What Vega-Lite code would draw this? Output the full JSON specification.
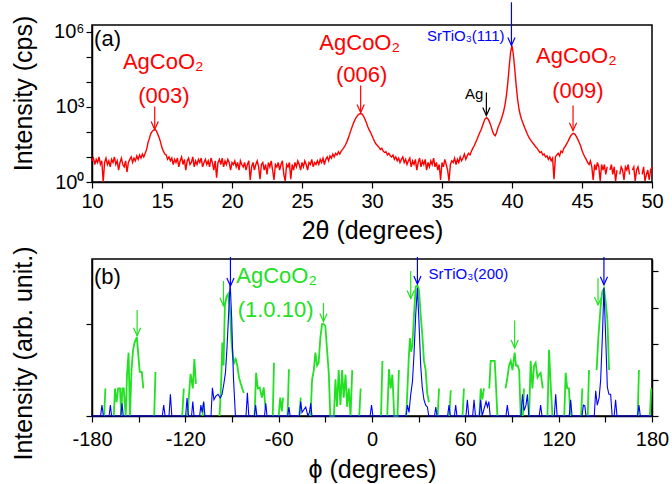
{
"$schema":"https://vega.github.io/schema/vega-lite/v6.json",
"background":"white",
"padding":{"left":10,"top":0,"right":6,"bottom":4},
"spacing":1,
"config":{"font":"Liberation Sans","view":{"stroke":"black","strokeWidth":1.5},
"axis":{"domainColor":"black","tickColor":"black","labelColor":"black","titleColor":"black","domainWidth":1.5,"tickWidth":1.2,"tickSize":6,"labelFontSize":20,"titleFontSize":25,"titleFontWeight":"normal","grid":false,"labelFlush":false,"labelOverlap":false,"labelFont":"Liberation Sans","titleFont":"Liberation Sans"}},
"vconcat":[
{"width":560,"height":157,
"layer":[
{"data":{"values":[
{"t":10.0,"i":7},{"t":10.1,"i":9},{"t":10.2,"i":5},{"t":10.3,"i":8},{"t":10.4,"i":6},{"t":10.5,"i":10},{"t":10.6,"i":5},{"t":10.7,"i":7},{"t":10.8,"i":1},{"t":10.9,"i":6},
{"t":11.0,"i":9},{"t":11.1,"i":5},{"t":11.2,"i":7},{"t":11.3,"i":4},{"t":11.4,"i":8},{"t":11.5,"i":6},{"t":11.6,"i":10},{"t":11.7,"i":5},{"t":11.8,"i":7},{"t":11.9,"i":3},
{"t":12.0,"i":6},{"t":12.1,"i":9},{"t":12.2,"i":5},{"t":12.3,"i":4},{"t":12.4,"i":7},{"t":12.5,"i":2.5},{"t":12.6,"i":6},{"t":12.7,"i":8},{"t":12.8,"i":10},{"t":12.9,"i":6},
{"t":13.0,"i":9},{"t":13.1,"i":7},{"t":13.2,"i":11},{"t":13.3,"i":8},{"t":13.4,"i":12},{"t":13.5,"i":9},{"t":13.6,"i":13},{"t":13.7,"i":10},{"t":13.8,"i":14},{"t":13.9,"i":20},
{"t":14.0,"i":37},{"t":14.1,"i":55},{"t":14.2,"i":85},{"t":14.3,"i":105},{"t":14.4,"i":118},{"t":14.5,"i":123},{"t":14.6,"i":110},{"t":14.7,"i":80},{"t":14.8,"i":59},{"t":14.9,"i":38},
{"t":15.0,"i":23},{"t":15.1,"i":17},{"t":15.2,"i":13},{"t":15.3,"i":12},{"t":15.4,"i":8},{"t":15.5,"i":10},{"t":15.6,"i":7},{"t":15.7,"i":9},{"t":15.8,"i":5},{"t":15.9,"i":8},
{"t":16.0,"i":6},{"t":16.1,"i":9},{"t":16.2,"i":4},{"t":16.3,"i":7},{"t":16.4,"i":10},{"t":16.5,"i":5},{"t":16.6,"i":8},{"t":16.7,"i":3},{"t":16.8,"i":7},{"t":16.9,"i":9},
{"t":17.0,"i":5},{"t":17.1,"i":6},{"t":17.2,"i":10},{"t":17.3,"i":4},{"t":17.4,"i":7},{"t":17.5,"i":5},{"t":17.6,"i":8},{"t":17.7,"i":6},{"t":17.8,"i":9},{"t":17.9,"i":4},
{"t":18.0,"i":6},{"t":18.1,"i":8},{"t":18.2,"i":5},{"t":18.3,"i":7},{"t":18.4,"i":4},{"t":18.5,"i":9},{"t":18.6,"i":6},{"t":18.7,"i":3},{"t":18.8,"i":7},{"t":18.9,"i":1.5},
{"t":19.0,"i":6},{"t":19.1,"i":8},{"t":19.2,"i":5},{"t":19.3,"i":9},{"t":19.4,"i":4},{"t":19.5,"i":7},{"t":19.6,"i":5},{"t":19.7,"i":8},{"t":19.8,"i":6},{"t":19.9,"i":3},
{"t":20.0,"i":6},{"t":20.1,"i":5},{"t":20.2,"i":7},{"t":20.3,"i":4},{"t":20.4,"i":6},{"t":20.5,"i":3},{"t":20.6,"i":7},{"t":20.7,"i":5},{"t":20.8,"i":4},{"t":20.9,"i":6},
{"t":21.0,"i":3},{"t":21.1,"i":5},{"t":21.2,"i":7},{"t":21.3,"i":1.2},{"t":21.4,"i":4},{"t":21.5,"i":6},{"t":21.6,"i":3},{"t":21.7,"i":5},{"t":21.8,"i":7},{"t":21.9,"i":4},
{"t":22.0,"i":1.3},{"t":22.1,"i":5},{"t":22.2,"i":6},{"t":22.3,"i":3},{"t":22.4,"i":5},{"t":22.5,"i":2},{"t":22.6,"i":6},{"t":22.7,"i":4},{"t":22.8,"i":7},{"t":22.9,"i":3},
{"t":23.0,"i":1.2},{"t":23.1,"i":5},{"t":23.2,"i":4},{"t":23.3,"i":6},{"t":23.4,"i":3},{"t":23.5,"i":5},{"t":23.6,"i":7},{"t":23.7,"i":2},{"t":23.8,"i":1.1},{"t":23.9,"i":5},
{"t":24.0,"i":4},{"t":24.1,"i":6},{"t":24.2,"i":1.3},{"t":24.3,"i":5},{"t":24.4,"i":3},{"t":24.5,"i":6},{"t":24.6,"i":4},{"t":24.7,"i":7},{"t":24.8,"i":5},{"t":24.9,"i":3},
{"t":25.0,"i":6},{"t":25.1,"i":4},{"t":25.2,"i":7},{"t":25.3,"i":5},{"t":25.4,"i":3},{"t":25.5,"i":6},{"t":25.6,"i":5},{"t":25.7,"i":8},{"t":25.8,"i":4},{"t":25.9,"i":6},
{"t":26.0,"i":5},{"t":26.1,"i":7},{"t":26.2,"i":5},{"t":26.3,"i":8},{"t":26.4,"i":6},{"t":26.5,"i":9},{"t":26.6,"i":5},{"t":26.7,"i":8},{"t":26.8,"i":10},{"t":26.9,"i":7},
{"t":27.0,"i":11},{"t":27.1,"i":9},{"t":27.2,"i":13},{"t":27.3,"i":10},{"t":27.4,"i":14},{"t":27.5,"i":12},{"t":27.6,"i":16},{"t":27.7,"i":13},{"t":27.8,"i":17},{"t":27.9,"i":20},
{"t":28.0,"i":24},{"t":28.1,"i":30},{"t":28.2,"i":40},{"t":28.3,"i":55},{"t":28.4,"i":80},{"t":28.5,"i":120},{"t":28.6,"i":170},{"t":28.7,"i":240},{"t":28.8,"i":320},{"t":28.9,"i":400},
{"t":29.0,"i":470},{"t":29.1,"i":520},{"t":29.2,"i":540},{"t":29.3,"i":510},{"t":29.4,"i":420},{"t":29.5,"i":320},{"t":29.6,"i":230},{"t":29.7,"i":160},{"t":29.8,"i":120},{"t":29.9,"i":94},
{"t":30.0,"i":70},{"t":30.1,"i":52},{"t":30.2,"i":40},{"t":30.3,"i":32},{"t":30.4,"i":28},{"t":30.5,"i":24},{"t":30.6,"i":20},{"t":30.7,"i":22},{"t":30.8,"i":17},{"t":30.9,"i":15},
{"t":31.0,"i":16},{"t":31.1,"i":12},{"t":31.2,"i":14},{"t":31.3,"i":11},{"t":31.4,"i":10},{"t":31.5,"i":12},{"t":31.6,"i":8},{"t":31.7,"i":10},{"t":31.8,"i":7},{"t":31.9,"i":9},
{"t":32.0,"i":6},{"t":32.1,"i":8},{"t":32.2,"i":10},{"t":32.3,"i":6},{"t":32.4,"i":8},{"t":32.5,"i":5},{"t":32.6,"i":7},{"t":32.7,"i":9},{"t":32.8,"i":4},{"t":32.9,"i":7},
{"t":33.0,"i":5},{"t":33.1,"i":8},{"t":33.2,"i":3},{"t":33.3,"i":6},{"t":33.4,"i":9},{"t":33.5,"i":4},{"t":33.6,"i":7},{"t":33.7,"i":5},{"t":33.8,"i":8},{"t":33.9,"i":3},
{"t":34.0,"i":6},{"t":34.1,"i":4},{"t":34.2,"i":7},{"t":34.3,"i":5},{"t":34.4,"i":9},{"t":34.5,"i":4},{"t":34.6,"i":6},{"t":34.7,"i":3},{"t":34.8,"i":5},{"t":34.9,"i":1.2},
{"t":35.0,"i":6},{"t":35.1,"i":4},{"t":35.2,"i":8},{"t":35.3,"i":5},{"t":35.4,"i":3},{"t":35.5,"i":1.1},{"t":35.6,"i":5},{"t":35.7,"i":7},{"t":35.8,"i":6},{"t":35.9,"i":9},
{"t":36.0,"i":5},{"t":36.1,"i":8},{"t":36.2,"i":6},{"t":36.3,"i":10},{"t":36.4,"i":7},{"t":36.5,"i":9},{"t":36.6,"i":13},{"t":36.7,"i":8},{"t":36.8,"i":11},{"t":36.9,"i":14},
{"t":37.0,"i":12},{"t":37.1,"i":17},{"t":37.2,"i":22},{"t":37.3,"i":28},{"t":37.4,"i":38},{"t":37.5,"i":50},{"t":37.6,"i":70},{"t":37.7,"i":95},{"t":37.8,"i":125},{"t":37.9,"i":180},
{"t":38.0,"i":260},{"t":38.1,"i":340},{"t":38.2,"i":370},{"t":38.3,"i":320},{"t":38.4,"i":240},{"t":38.5,"i":170},{"t":38.6,"i":110},{"t":38.7,"i":80},{"t":38.8,"i":70},{"t":38.9,"i":95},
{"t":39.0,"i":150},{"t":39.1,"i":200},{"t":39.2,"i":280},{"t":39.3,"i":420},{"t":39.4,"i":650},{"t":39.5,"i":1200},{"t":39.6,"i":2800},{"t":39.7,"i":9000},{"t":39.8,"i":40000},{"t":39.9,"i":150000},
{"t":40.0,"i":280000},{"t":40.1,"i":120000},{"t":40.2,"i":30000},{"t":40.3,"i":7000},{"t":40.4,"i":2000},{"t":40.5,"i":800},{"t":40.6,"i":450},{"t":40.7,"i":300},{"t":40.8,"i":210},{"t":40.9,"i":150},
{"t":41.0,"i":110},{"t":41.1,"i":80},{"t":41.2,"i":62},{"t":41.3,"i":50},{"t":41.4,"i":42},{"t":41.5,"i":35},{"t":41.6,"i":30},{"t":41.7,"i":25},{"t":41.8,"i":22},{"t":41.9,"i":18},
{"t":42.0,"i":15},{"t":42.1,"i":16},{"t":42.2,"i":12},{"t":42.3,"i":13},{"t":42.4,"i":10},{"t":42.5,"i":11},{"t":42.6,"i":8},{"t":42.7,"i":10},{"t":42.8,"i":7},{"t":42.9,"i":9},
{"t":43.0,"i":1.3},{"t":43.1,"i":10},{"t":43.2,"i":12},{"t":43.3,"i":14},{"t":43.4,"i":11},{"t":43.5,"i":17},{"t":43.6,"i":15},{"t":43.7,"i":22},{"t":43.8,"i":26},{"t":43.9,"i":33},
{"t":44.0,"i":42},{"t":44.1,"i":55},{"t":44.2,"i":70},{"t":44.3,"i":82},{"t":44.4,"i":88},{"t":44.5,"i":80},{"t":44.6,"i":65},{"t":44.7,"i":50},{"t":44.8,"i":38},{"t":44.9,"i":28},
{"t":45.0,"i":18},{"t":45.1,"i":13},{"t":45.2,"i":10},{"t":45.3,"i":8},{"t":45.4,"i":6},{"t":45.5,"i":5},{"t":45.6,"i":7},{"t":45.7,"i":4},{"t":45.8,"i":1.2},{"t":45.9,"i":5},
{"t":46.0,"i":3},{"t":46.1,"i":6},{"t":46.2,"i":4},{"t":46.3,"i":1.1},{"t":46.4,"i":5},{"t":46.5,"i":3},{"t":46.6,"i":5},{"t":46.7,"i":2},{"t":46.8,"i":4},{"t":46.9,"i":null},
{"t":47.0,"i":3},{"t":47.1,"i":5},{"t":47.2,"i":2},{"t":47.3,"i":4},{"t":47.4,"i":1.1},{"t":47.5,"i":3},{"t":47.6,"i":null},{"t":47.7,"i":2},{"t":47.8,"i":4},{"t":47.9,"i":3},
{"t":48.0,"i":1.2},{"t":48.1,"i":4},{"t":48.2,"i":3},{"t":48.3,"i":5},{"t":48.4,"i":2},{"t":48.5,"i":null},{"t":48.6,"i":3},{"t":48.7,"i":4},{"t":48.8,"i":1.1},{"t":48.9,"i":3},
{"t":49.0,"i":4},{"t":49.1,"i":2},{"t":49.2,"i":null},{"t":49.3,"i":2},{"t":49.4,"i":4},{"t":49.5,"i":1.1},{"t":49.6,"i":2},{"t":49.7,"i":3},{"t":49.8,"i":1.2},{"t":49.9,"i":3},
{"t":50.0,"i":4}
]},
"mark":{"type":"line","color":"#ff0000","strokeWidth":1.4},
"encoding":{
"x":{"field":"t","type":"quantitative","scale":{"domain":[10,50],"nice":false,"zero":false},
"axis":{"title":"2θ (degrees)","values":[10,12.5,15,17.5,20,22.5,25,27.5,30,32.5,35,37.5,40,42.5,45,47.5,50],"labelExpr":"datum.value % 5 === 0 ? '' + datum.value : ''","labelPadding":3,"titlePadding":7,"labelOverlap":false}},
"y":{"field":"i","type":"quantitative","scale":{"type":"log","domain":[1,1840000],"nice":false},
"axis":{"title":"Intensity (cps)","values":[1,10,100,1000,10000,100000,1000000],"labelExpr":"datum.value === 1 ? '10⁰' : datum.value === 1000 ? '10³' : datum.value === 1000000 ? '10⁶' : ''","labelPadding":2,"minExtent":44,"maxExtent":44,"titlePadding":12,"titleY":68,"labelOverlap":false}}}},
{"data":{"values":[
{"t":15.09,"i":61660,"label":"AgCoO₂"},{"t":15.14,"i":2692,"label":"(003)"},
{"t":29.12,"i":338800,"label":"AgCoO₂"},{"t":29.26,"i":17780,"label":"(006)"},
{"t":44.6,"i":109600,"label":"AgCoO₂"},{"t":44.7,"i":4365,"label":"(009)"}]},
"mark":{"type":"text","fontSize":22,"color":"#ff0000","align":"center","baseline":"middle","font":"Liberation Sans"},
"encoding":{"x":{"field":"t","type":"quantitative","scale":{"domain":[10,50]}},"y":{"field":"i","type":"quantitative","scale":{"type":"log","domain":[1,1840000]}},"text":{"field":"label"}}},
{"data":{"values":[{"t":37.3,"i":3236,"label":"Ag"}]},
"mark":{"type":"text","fontSize":15,"color":"black","align":"center","baseline":"middle","font":"Liberation Sans"},
"encoding":{"x":{"field":"t","type":"quantitative"},"y":{"field":"i","type":"quantitative"},"text":{"field":"label"}}},
{"data":{"values":[{"t":36.7,"i":676000,"label":"SrTiO₃(111)"}]},
"mark":{"type":"text","fontSize":15,"color":"#0000ff","align":"center","baseline":"middle","font":"Liberation Sans"},
"encoding":{"x":{"field":"t","type":"quantitative"},"y":{"field":"i","type":"quantitative"},"text":{"field":"label"}}},
{"data":{"values":[{"t":10.15,"i":512800,"label":"(a)"}]},
"mark":{"type":"text","fontSize":22,"color":"black","align":"left","baseline":"middle","font":"Liberation Sans"},
"encoding":{"x":{"field":"t","type":"quantitative"},"y":{"field":"i","type":"quantitative"},"text":{"field":"label"}}},
{"data":{"values":[{"t":14.48,"i":1025,"i2":124},{"t":29.19,"i":7080,"i2":590},{"t":44.36,"i":1122,"i2":112}]},
"mark":{"type":"rule","color":"#ff0000","strokeWidth":1.2},
"encoding":{"x":{"field":"t","type":"quantitative"},"y":{"field":"i","type":"quantitative"},"y2":{"field":"i2"}}},
{"data":{"values":[{"t":14.48,"i":124},{"t":29.19,"i":590},{"t":44.36,"i":112}]},
"mark":{"type":"point","shape":"M-0.45,-1L0,0L0.45,-1","filled":false,"size":256,"color":"#ff0000","strokeWidth":1.2,"opacity":1},
"encoding":{"x":{"field":"t","type":"quantitative"},"y":{"field":"i","type":"quantitative"}}},
{"data":{"values":[{"t":38.17,"i":3715,"i2":447}]},
"mark":{"type":"rule","color":"black","strokeWidth":1.2},
"encoding":{"x":{"field":"t","type":"quantitative"},"y":{"field":"i","type":"quantitative"},"y2":{"field":"i2"}}},
{"data":{"values":[{"t":38.17,"i":447}]},
"mark":{"type":"point","shape":"M-0.45,-1L0,0L0.45,-1","filled":false,"size":256,"color":"black","strokeWidth":1.2,"opacity":1},
"encoding":{"x":{"field":"t","type":"quantitative"},"y":{"field":"i","type":"quantitative"}}},
{"data":{"values":[{"t":39.96,"i":14800000,"i2":282000}]},
"mark":{"type":"rule","color":"#0000ff","strokeWidth":1.2},
"encoding":{"x":{"field":"t","type":"quantitative"},"y":{"field":"i","type":"quantitative"},"y2":{"field":"i2"}}},
{"data":{"values":[{"t":39.96,"i":282000}]},
"mark":{"type":"point","shape":"M-0.45,-1L0,0L0.45,-1","filled":false,"size":256,"color":"#0000ff","strokeWidth":1.2,"opacity":1},
"encoding":{"x":{"field":"t","type":"quantitative"},"y":{"field":"i","type":"quantitative"}}}
]},
{"width":560,"height":157,
"layer":[
{"layer":[
{"data":{"values":[
{"p":-178,"g":0},{"p":-177,"g":null},
{"p":-172.2,"g":0},{"p":-171.4,"g":0.3},{"p":-170.8,"g":null},
{"p":-166,"g":0},{"p":-165.2,"g":0.3},{"p":-164.2,"g":0.15},{"p":-163.2,"g":0.3},{"p":-162,"g":0.3},{"p":-161.2,"g":0},{"p":-160.5,"g":0.3},{"p":-159.6,"g":0.3},{"p":-158.9,"g":0.12},{"p":-158.3,"g":0},{"p":-157.5,"g":0.45},{"p":-156.5,"g":0.69},{"p":-155.6,"g":0},{"p":-154.6,"g":0.5},{"p":-153.6,"g":0.72},{"p":-152.6,"g":0.8},{"p":-151.2,"g":0.86},{"p":-150.2,"g":0.66},{"p":-149.3,"g":0.48},{"p":-148,"g":0.48},{"p":-147,"g":0.3},{"p":-146.5,"g":null},
{"p":-140,"g":0},{"p":-139.2,"g":0.48},{"p":-138.6,"g":null},
{"p":-122,"g":0},{"p":-121,"g":0.3},{"p":-120.3,"g":null},
{"p":-118.6,"g":0},{"p":-117.8,"g":0.2},{"p":-116.6,"g":0.46},{"p":-115.2,"g":0.3},{"p":-114.2,"g":0.62},{"p":-113.2,"g":0.35},{"p":-112.6,"g":null},
{"p":-109,"g":0},{"p":-108.2,"g":0.14},{"p":-107.6,"g":null},
{"p":-98,"g":0},{"p":-97,"g":0.35},{"p":-96.2,"g":0.8},{"p":-95.4,"g":0.55},{"p":-94.6,"g":1.2},{"p":-93.5,"g":1.3},{"p":-92.4,"g":1.33},{"p":-91.3,"g":1.15},{"p":-90.3,"g":0.8},{"p":-89.4,"g":0.65},{"p":-88.6,"g":0.58},{"p":-87.6,"g":0.62},{"p":-86.6,"g":0.55},{"p":-85.5,"g":0.42},{"p":-84.5,"g":0.36},{"p":-83.4,"g":0.3},{"p":-82.4,"g":0.25},{"p":-81.8,"g":null},
{"p":-75.5,"g":0},{"p":-74.5,"g":0.47},{"p":-73.4,"g":0.3},{"p":-72.2,"g":0.31},{"p":-70.8,"g":0.2},{"p":-69.6,"g":0.31},{"p":-68.5,"g":0.09},{"p":-67.8,"g":null},
{"p":-63.8,"g":0},{"p":-63,"g":0.58},{"p":-62.3,"g":null},
{"p":-60,"g":0},{"p":-59,"g":0.2},{"p":-58,"g":0.05},{"p":-57.2,"g":0.2},{"p":-56.5,"g":null},
{"p":-54.3,"g":0},{"p":-53.4,"g":0.51},{"p":-52.7,"g":null},
{"p":-46.8,"g":0},{"p":-45.8,"g":0.2},{"p":-45.2,"g":null},
{"p":-39.5,"g":0},{"p":-38.5,"g":0.4},{"p":-37.4,"g":0.5},{"p":-36.4,"g":0.69},{"p":-35.3,"g":0.55},{"p":-34.3,"g":0.58},{"p":-33.2,"g":0.85},{"p":-32.1,"g":1.0},{"p":-31,"g":1.0},{"p":-30,"g":0.98},{"p":-28.8,"g":0.7},{"p":-27.8,"g":0.47},{"p":-26.8,"g":0},
{"p":-24.5,"g":0},{"p":-23.5,"g":0.4},{"p":-22.5,"g":0.1},{"p":-21.4,"g":0.5},{"p":-20.3,"g":0.12},{"p":-19.2,"g":0.5},{"p":-18.2,"g":0.2},{"p":-17,"g":0.45},{"p":-16,"g":0.1},{"p":-14.9,"g":0.3},{"p":-13.8,"g":0},{"p":-12.7,"g":0.5},{"p":-12,"g":null},
{"p":-8.2,"g":0},{"p":-7.3,"g":0.3},{"p":-6.7,"g":null},
{"p":5.8,"g":0},{"p":6.7,"g":0.6},{"p":7.3,"g":null},
{"p":9.8,"g":0},{"p":10.9,"g":0.51},{"p":12,"g":0.3},{"p":13.1,"g":0.45},{"p":14.3,"g":0},
{"p":16.4,"g":0},{"p":17.3,"g":0.5},{"p":18,"g":null},
{"p":22,"g":0},{"p":22.8,"g":0.3},{"p":23.6,"g":0.62},{"p":24.4,"g":0.85},{"p":25.2,"g":0.7},{"p":26,"g":0.78},{"p":27,"g":1.1},{"p":28.1,"g":1.41},{"p":29.2,"g":1.42},{"p":30.2,"g":1.37},{"p":31.3,"g":1.1},{"p":32.4,"g":0.87},{"p":33.4,"g":0.6},{"p":34.5,"g":0.5},{"p":35.5,"g":0.25},{"p":36.6,"g":0.15},{"p":37.2,"g":null},
{"p":42.2,"g":0},{"p":43.1,"g":0.3},{"p":43.8,"g":null},
{"p":49.7,"g":0},{"p":50.6,"g":0.28},{"p":51.3,"g":null},
{"p":58.2,"g":0},{"p":59.1,"g":0.3},{"p":59.8,"g":null},
{"p":69,"g":0},{"p":69.9,"g":0.3},{"p":70.9,"g":0.18},{"p":72,"g":0.3},{"p":72.6,"g":null},
{"p":75.4,"g":0.3},{"p":76.3,"g":0.6},{"p":78.9,"g":0.6},{"p":79.8,"g":0.3},{"p":80.6,"g":0},{"p":81.2,"g":null},
{"p":85.8,"g":0.3},{"p":86.9,"g":0.4},{"p":88.1,"g":0.55},{"p":89.2,"g":0.6},{"p":90.3,"g":0.5},{"p":91.7,"g":0.69},{"p":92.6,"g":0.55},{"p":93.6,"g":0.55},{"p":94.6,"g":0.5},{"p":95.6,"g":0},{"p":96.2,"g":null},
{"p":97,"g":0},{"p":97.7,"g":0.3},{"p":98.3,"g":null},
{"p":101,"g":0},{"p":102,"g":0.6},{"p":103.1,"g":0.3},{"p":104.2,"g":0.55},{"p":105.2,"g":0.58},{"p":106.4,"g":0.42},{"p":107.4,"g":0.45},{"p":108.4,"g":0.47},{"p":109.8,"g":0.3},{"p":110.6,"g":null},
{"p":112.8,"g":0},{"p":113.8,"g":0.72},{"p":115,"g":0.3},{"p":116,"g":0},{"p":116.6,"g":null},
{"p":123.6,"g":0},{"p":124.5,"g":0.47},{"p":125.5,"g":0.3},{"p":126.6,"g":0.3},{"p":127.5,"g":0},{"p":128.2,"g":null},
{"p":134.4,"g":0},{"p":135.2,"g":0.3},{"p":135.9,"g":null},
{"p":138.7,"g":0},{"p":139.5,"g":0.5},{"p":140.2,"g":null},
{"p":144.4,"g":0.5},{"p":145.5,"g":0.85},{"p":147,"g":1.2},{"p":148,"g":1.35},{"p":149.1,"g":1.39},{"p":150.2,"g":1.25},{"p":151.3,"g":1.05},{"p":152.4,"g":0.5},{"p":153,"g":null},
{"p":170.8,"g":0},{"p":171.6,"g":0.5},{"p":172.3,"g":null},
{"p":178.6,"g":0},{"p":179.5,"g":0.3}
]},
"mark":{"type":"line","color":"#22e022","strokeWidth":1.8},
"encoding":{
"x":{"field":"p","type":"quantitative","scale":{"domain":[-180,180],"nice":false,"zero":false},
"axis":{"title":"ϕ (degrees)","values":[-180,-150,-120,-90,-60,-30,0,30,60,90,120,150,180],"labelExpr":"datum.value % 60 === 0 ? '' + datum.value : ''","labelPadding":7,"titlePadding":8,"labelOverlap":false}},
"y":{"field":"g","type":"quantitative","scale":{"domain":[0,1.71],"nice":false,"zero":false},
"axis":{"title":"Intensity (arb. unit.)","values":[0,1],"labels":false,"minExtent":44,"maxExtent":44,"titlePadding":12,"titleY":94,"labelOverlap":false}}}},
{"data":{"values":[{"p":-61.3,"g":1.53,"label":"AgCoO₂"},{"p":-62,"g":1.15,"label":"(1.0.10)"}]},
"mark":{"type":"text","fontSize":22,"color":"#22e022","align":"center","baseline":"middle","font":"Liberation Sans"},
"encoding":{"x":{"field":"p","type":"quantitative"},"y":{"field":"g","type":"quantitative","scale":{"domain":[0,1.71]}},"text":{"field":"label"}}},
{"data":{"values":[{"p":-178.7,"g":1.51,"label":"(b)"}]},
"mark":{"type":"text","fontSize":22,"color":"black","align":"left","baseline":"middle","font":"Liberation Sans"},
"encoding":{"x":{"field":"p","type":"quantitative"},"y":{"field":"g","type":"quantitative"},"text":{"field":"label"}}},
{"data":{"values":[{"p":-151,"g":1.155,"g2":0.873},{"p":-95.5,"g":1.47,"g2":1.2},{"p":-31.2,"g":1.23,"g2":1.03},{"p":24.9,"g":1.58,"g2":1.28},{"p":91.7,"g":1.04,"g2":0.74},{"p":145.3,"g":1.5,"g2":1.21}]},
"mark":{"type":"rule","color":"#22e022","strokeWidth":1.2},
"encoding":{"x":{"field":"p","type":"quantitative"},"y":{"field":"g","type":"quantitative"},"y2":{"field":"g2"}}},
{"data":{"values":[{"p":-151,"g":0.873},{"p":-95.5,"g":1.2},{"p":-31.2,"g":1.03},{"p":24.9,"g":1.28},{"p":91.7,"g":0.74},{"p":145.3,"g":1.21}]},
"mark":{"type":"point","shape":"M-0.45,-1L0,0L0.45,-1","filled":false,"size":256,"color":"#22e022","strokeWidth":1.2,"opacity":1},
"encoding":{"x":{"field":"p","type":"quantitative"},"y":{"field":"g","type":"quantitative"}}}
]},
{"layer":[
{"data":{"values":[
{"p":-180,"b":0},{"p":-174.5,"b":0},{"p":-173.6,"b":0.3},{"p":-172.7,"b":0},{"p":-169,"b":0},{"p":-168.2,"b":0.3},{"p":-167.4,"b":0},{"p":-161.5,"b":0},{"p":-160.7,"b":0.35},{"p":-159.9,"b":0},
{"p":-134.8,"b":0},{"p":-133.9,"b":0.3},{"p":-133,"b":0},{"p":-130.5,"b":0},{"p":-129.6,"b":0.6},{"p":-128.7,"b":0},{"p":-119.8,"b":0},{"p":-118.9,"b":0.5},{"p":-118,"b":0},{"p":-116,"b":0},{"p":-115.2,"b":0.4},{"p":-114.4,"b":0},
{"p":-110.8,"b":0},{"p":-110,"b":0.3},{"p":-109.2,"b":0.1},{"p":-108.2,"b":0.4},{"p":-107.4,"b":0},{"p":-103.5,"b":0},{"p":-102.6,"b":0.78},{"p":-101.6,"b":0.45},{"p":-100.4,"b":0.55},{"p":-99,"b":0.6},{"p":-97.6,"b":0.5},{"p":-96.4,"b":0.6},{"p":-95.2,"b":0.9},{"p":-94.2,"b":1.2},{"p":-93.2,"b":1.9},{"p":-92.2,"b":2.8},{"p":-91.2,"b":3.7},{"p":-90.2,"b":2.7},{"p":-89.6,"b":1.8},{"p":-89,"b":1.0},{"p":-88.4,"b":0.5},{"p":-87.8,"b":0},
{"p":-81,"b":0},{"p":-80.1,"b":0.64},{"p":-79.2,"b":0},{"p":-75.6,"b":0},{"p":-74.8,"b":0.3},{"p":-74,"b":0},{"p":-69.1,"b":0},{"p":-68.3,"b":0.35},{"p":-67.5,"b":0},{"p":-54.2,"b":0},{"p":-53.4,"b":0.25},{"p":-52.6,"b":0},
{"p":-46.6,"b":0},{"p":-45.8,"b":0.4},{"p":-45,"b":0.1},{"p":-42.6,"b":0.25},{"p":-41.2,"b":0},{"p":-40.2,"b":0.1},{"p":-39.4,"b":0.35},{"p":-38.6,"b":0},{"p":-1.2,"b":0},{"p":-0.3,"b":0.3},{"p":0.6,"b":0},
{"p":21.8,"b":0},{"p":22.8,"b":0.3},{"p":23.8,"b":0.1},{"p":24.9,"b":0.6},{"p":26,"b":0.95},{"p":27,"b":1.7},{"p":28.1,"b":2.8},{"p":29.2,"b":3.55},{"p":30.2,"b":2.6},{"p":31.3,"b":1.4},{"p":32.3,"b":0.8},{"p":33.4,"b":0.45},{"p":34.5,"b":0.3},{"p":35.6,"b":0.25},{"p":36.5,"b":0},
{"p":40.2,"b":0},{"p":41,"b":0.25},{"p":41.8,"b":0},{"p":48.6,"b":0},{"p":49.5,"b":0.3},{"p":50.4,"b":0},{"p":53,"b":0},{"p":53.8,"b":0.3},{"p":54.6,"b":0},{"p":60.4,"b":0},{"p":61.3,"b":0.45},{"p":62.2,"b":0},{"p":64.7,"b":0},{"p":65.6,"b":0.45},{"p":66.5,"b":0},{"p":69,"b":0},{"p":69.9,"b":0.45},{"p":70.8,"b":0},{"p":73.3,"b":0.4},{"p":74.2,"b":0.25},{"p":75.1,"b":0.4},{"p":76,"b":0},
{"p":86.1,"b":0},{"p":87,"b":0.3},{"p":87.9,"b":0},{"p":95.8,"b":0},{"p":96.7,"b":0.6},{"p":97.8,"b":0.15},{"p":99,"b":0.3},{"p":99.9,"b":0.6},{"p":100.8,"b":0},{"p":107.5,"b":0},{"p":108.4,"b":0.3},{"p":109.3,"b":0},{"p":117.2,"b":0},{"p":118.1,"b":0.6},{"p":119,"b":0},{"p":126.8,"b":0},{"p":127.7,"b":0.45},{"p":128.6,"b":0},{"p":135,"b":0},{"p":135.9,"b":0.3},{"p":136.8,"b":0.28},{"p":137.6,"b":0},
{"p":142.9,"b":0},{"p":143.8,"b":0.7},{"p":144.8,"b":0.3},{"p":146,"b":0.5},{"p":147,"b":1.0},{"p":148.1,"b":2.2},{"p":149.1,"b":3.55},{"p":150.2,"b":2.2},{"p":151.3,"b":0.8},{"p":152.3,"b":0.6},{"p":153.4,"b":0.6},{"p":154.4,"b":0},{"p":155.7,"b":0},{"p":156.6,"b":0.45},{"p":157.5,"b":0},{"p":170.7,"b":0},{"p":171.6,"b":0.3},{"p":172.5,"b":0},{"p":180,"b":0}
]},
"mark":{"type":"line","color":"#0000ff","strokeWidth":1.1},
"encoding":{
"x":{"field":"p","type":"quantitative","scale":{"domain":[-180,180]}},
"y":{"field":"b","type":"quantitative","scale":{"domain":[0,4.345],"nice":false,"zero":false},
"axis":{"title":null,"values":[0,1,2,3,4],"labels":false,"orient":"right","labelOverlap":false,"tickCount":5}}}},
{"data":{"values":[{"p":62,"b":3.93,"label":"SrTiO₃(200)"}]},
"mark":{"type":"text","fontSize":15,"color":"#0000ff","align":"center","baseline":"middle","font":"Liberation Sans"},
"encoding":{"x":{"field":"p","type":"quantitative"},"y":{"field":"b","type":"quantitative","scale":{"domain":[0,4.345]}},"text":{"field":"label"}}},
{"data":{"values":[{"p":-91,"b":4.4,"b2":3.6},{"p":29.2,"b":4.4,"b2":3.65},{"p":149.1,"b":4.4,"b2":3.63}]},
"mark":{"type":"rule","color":"#0000ff","strokeWidth":1.2},
"encoding":{"x":{"field":"p","type":"quantitative"},"y":{"field":"b","type":"quantitative"},"y2":{"field":"b2"}}},
{"data":{"values":[{"p":-91,"b":3.6},{"p":29.2,"b":3.65},{"p":149.1,"b":3.63}]},
"mark":{"type":"point","shape":"M-0.45,-1L0,0L0.45,-1","filled":false,"size":256,"color":"#0000ff","strokeWidth":1.2,"opacity":1},
"encoding":{"x":{"field":"p","type":"quantitative"},"y":{"field":"b","type":"quantitative"}}}
]}
],
"resolve":{"scale":{"y":"independent"}}}
]}
